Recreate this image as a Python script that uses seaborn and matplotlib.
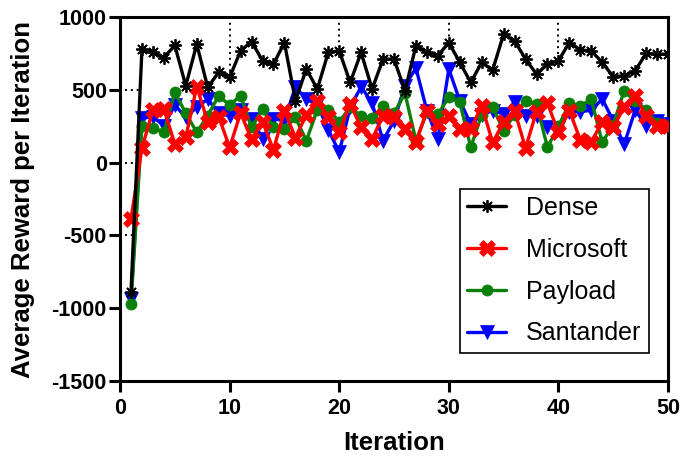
import numpy as np
import pandas as pd
import matplotlib
matplotlib.use("Agg")
import matplotlib.pyplot as plt
import seaborn as sns

iterations = list(range(1, 51))

dense = [-890, 780, 757, 722, 805, 528, 814, 517, 620, 585,
         768, 832, 700, 677, 825, 425, 643, 505, 757, 768,
         551, 757, 505, 711, 711, 494, 803, 757, 734, 825,
         688, 551, 688, 636, 883, 837, 711, 608, 677, 700,
         825, 773, 768, 688, 590, 597, 631, 750, 745, 745]

microsoft = [-386, 100, 362, 368, 128, 174, 522, 282, 316, 105,
             340, 160, 282, 88, 357, 172, 328, 420, 311, 208,
             403, 242, 162, 322, 311, 231, 139, 357, 265, 322,
             231, 231, 391, 139, 277, 357, 100, 350, 408, 208,
             357, 156, 145, 277, 242, 382, 456, 322, 250, 250]

payload = [-974, 250, 240, 208, 482, 340, 208, 322, 460, 395,
           460, 242, 368, 242, 231, 311, 151, 362, 364, 282,
           380, 320, 305, 390, 340, 476, 151, 345, 334, 448,
           414, 105, 330, 382, 220, 330, 425, 403, 105, 250,
           408, 391, 434, 139, 260, 494, 420, 365, 270, 250]

santander = [-940, 305, 315, 254, 395, 311, 380, 437, 340, 322,
             360, 300, 165, 300, 290, 520, 435, 400, 226, 72,
             380, 522, 408, 151, 288, 528, 650, 357, 162, 643,
             425, 265, 330, 357, 334, 414, 322, 322, 242, 240,
             350, 350, 360, 437, 288, 125, 361, 254, 288, 262]

series_names = ["Dense", "Microsoft", "Payload", "Santander"]
series_values = [dense, microsoft, payload, santander]

x_ticks = [0, 10, 20, 30, 40, 50]
y_ticks = [-1500, -1000, -500, 0, 500, 1000]

sns.set_style("ticks")
plt.rcParams['font.family'] = ['Liberation Sans', 'DejaVu Sans']
plt.rcParams['axes.unicode_minus'] = False
plt.rcParams['text.color'] = 'black'
plt.rcParams['axes.labelcolor'] = 'black'
plt.rcParams['xtick.color'] = 'black'
plt.rcParams['ytick.color'] = 'black'

fig = plt.figure(figsize=(6.82, 4.61), dpi=100)
ax = fig.add_axes([0.176, 0.1735, 0.8035, 0.7895])

styles = {
    "Dense": dict(color="#000000", marker=(8, 2, 0), markersize=9, markeredgewidth=1.3, zorder=6),
    "Microsoft": dict(color="#FF0000", marker="X", markersize=11, markeredgewidth=0.5, zorder=5),
    "Payload": dict(color="#0A800A", marker="o", markersize=8, markeredgewidth=0.5, zorder=4),
    "Santander": dict(color="#0000FF", marker="v", markersize=10, markeredgewidth=0.5, zorder=3),
}

df = pd.DataFrame({"Iteration": iterations * 4,
                   "Reward": sum(series_values, []),
                   "Series": sum([[n] * len(iterations) for n in series_names], [])})

draw_order = ["Santander", "Payload", "Microsoft", "Dense"]
for name in draw_order:
    st = styles[name]
    sub = df[df["Series"] == name]
    sns.lineplot(data=sub, x="Iteration", y="Reward", ax=ax, color=st["color"],
                 marker=st["marker"], markersize=st["markersize"],
                 markeredgecolor=st["color"], markeredgewidth=st["markeredgewidth"],
                 linewidth=2.4, zorder=st["zorder"], label=name, estimator=None)

# dotted grid fragments (visible only up to the Dense curve)
dense_arr = np.array(dense, dtype=float)
it_arr = np.array(iterations, dtype=float)
for xv in [10, 20, 30, 40]:
    yv = np.interp(xv, it_arr, dense_arr)
    ax.plot([xv, xv], [1000, yv + 25], linestyle=(0, (1, 2)), color="black", linewidth=1.4, zorder=1)
for yv in [500, 0, -500]:
    x_cross = 1 + (yv - dense[0]) / (dense[1] - dense[0])
    ax.plot([0.45, x_cross - 0.1], [yv, yv], linestyle=(0, (1, 2)), color="black", linewidth=1.4, zorder=1)

ax.set_xlim(0, 50)
ax.set_ylim(-1500, 1000)
ax.set_xticks(x_ticks)
ax.set_yticks(y_ticks)
ax.tick_params(axis="both", direction="out", length=8, width=2.2, labelsize=15.5,
               color="black", labelcolor="black")
ax.tick_params(axis="y", pad=1.5)
ax.tick_params(axis="x", pad=4)
for lab in ax.get_xticklabels() + ax.get_yticklabels():
    lab.set_fontweight("bold")
for sp in ax.spines.values():
    sp.set_visible(True)
    sp.set_linewidth(2.2)
    sp.set_color("black")

ax.set_xlabel("Iteration", fontsize=18.5, fontweight="bold", labelpad=9, color="black")
ax.set_ylabel("Average Reward per Iteration", fontsize=18.5, fontweight="bold", labelpad=12, color="black")

handles, labels = ax.get_legend_handles_labels()
order = [labels.index(n) for n in series_names]
leg = ax.legend([handles[i] for i in order], [labels[i] for i in order],
                loc="lower right", bbox_to_anchor=(0.965, 0.077), fontsize=18,
                frameon=True, fancybox=False, framealpha=1, edgecolor="black",
                handlelength=1.55, handletextpad=0.8, labelspacing=0.71, borderpad=0.3,
                borderaxespad=0.0)
leg.get_frame().set_linewidth(1.2)
for t in leg.get_texts():
    t.set_color("black")

fig.savefig("out.png", dpi=100)
